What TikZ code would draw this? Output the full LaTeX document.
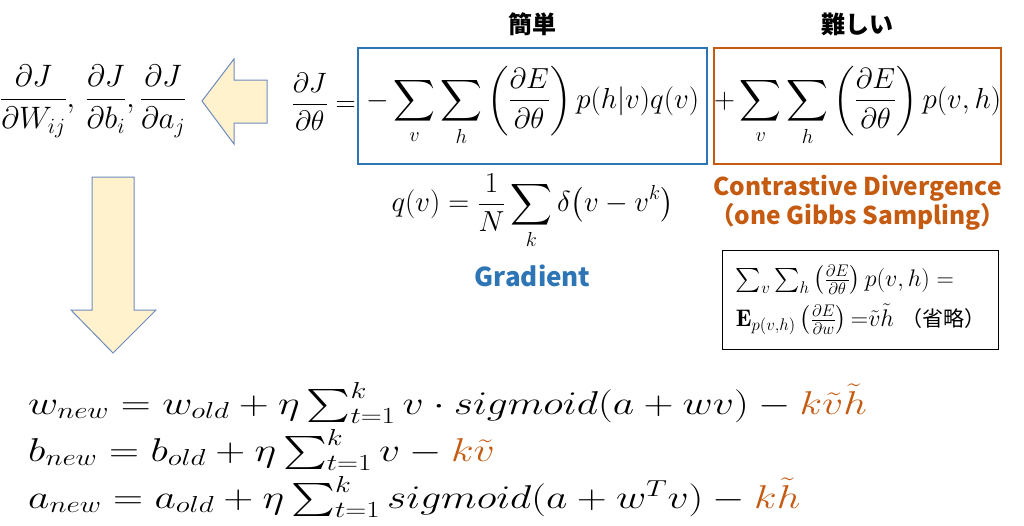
\documentclass[tikz,border=0pt]{standalone}
\usepackage{fix-cm}
\usepackage{amsmath,amssymb}
\usepackage{fontspec}
\newfontfamily\jpfont{Noto Sans CJK JP}
\usetikzlibrary{positioning}
\definecolor{gradblue}{HTML}{2E75B6}
\definecolor{cdorange}{HTML}{C55A11}
\definecolor{arrowfill}{HTML}{FFF2CC}
\definecolor{arrowline}{HTML}{6F8AC0}

\begin{document}
\begin{tikzpicture}[x=1pt,y=-1pt]
        \tikzstyle{term} = [inner sep=0pt,minimum height=116pt,line width=2.4pt,font=\fontsize{29}{34}\selectfont]
        \tikzstyle{bigarrow} = [fill=arrowfill,draw=arrowline,line width=1pt]
        \tikzstyle{jplabel} = [font=\jpfont\bfseries\fontsize{24}{30}\selectfont]
        \tikzstyle{eqline} = [inner sep=0pt,anchor=base west,font=\fontsize{33}{40}\selectfont]
    
        \useasboundingbox (0,0) rectangle (1024,525);
    
    
        \node[inner sep=0pt,anchor=west,font=\fontsize{31}{36}\selectfont] (partials) at (0,101)
            {$\displaystyle \frac{\partial J}{\partial W_{ij}},\,\frac{\partial J}{\partial b_i},\frac{\partial J}{\partial a_j}$};
        \node[inner sep=0pt,anchor=east,font=\fontsize{28}{34}\selectfont] (lhs) at (356,102)
            {$\displaystyle \frac{\partial J}{\partial \theta}=$};
    
    
        \node[term,draw=gradblue,minimum width=349pt,anchor=west] (grad) at (357,106)
            {$\displaystyle -\sum_{v}\sum_{h}\left(\frac{\partial E}{\partial\theta}\right)p(h|v)q(v)$};
        \node[term,draw=cdorange,minimum width=285pt,anchor=west] (cd) at (713,106)
            {$\displaystyle +\sum_{v}\sum_{h}\left(\frac{\partial E}{\partial\theta}\right)p(v,h)$};
    
    
        \node[jplabel,above=7pt of grad] (easy) {簡単};
        \node[jplabel,above=7pt of cd] (hard) {難しい};
    
    
        \node[inner sep=0pt,below=8pt of grad,font=\fontsize{29}{34}\selectfont] (qv)
            {$\displaystyle q(v)=\frac{1}{N}\sum_{k}\delta\bigl(v-v^{k}\bigr)$};
        \node[jplabel,text=gradblue,below=12pt of qv,font=\jpfont\bfseries\fontsize{26}{30}\selectfont] (gradname) {Gradient};
        \node[jplabel,text=cdorange,align=center,below=6pt of cd,font=\jpfont\bfseries\fontsize{24.5}{29}\selectfont] (cdname)
            {Contrastive Divergence\\（one Gibbs Sampling）};
    
    
        \node[draw,line width=0.8pt,align=left,minimum width=276pt,minimum height=99pt,anchor=north east,font=\fontsize{24}{34}\selectfont] (note) at (999,250)
            {$\sum_{v}\sum_{h}\left(\frac{\partial E}{\partial\theta}\right)p(v,h)=$\\[6pt]
             $\mathbf{E}_{p(v,h)}\left(\frac{\partial E}{\partial w}\right){=}\tilde{v}\tilde{h}$ {\jpfont\fontsize{21}{30}\selectfont（省略）}};
    
    
        \draw[bigarrow] (202,101) -- (234,59) -- (234,80) -- (267,80) -- (267,123) -- (234,123) -- (234,144) -- cycle;
        \draw[bigarrow] (92,177) -- (134,177) -- (134,310) -- (156,310) -- (113,353) -- (71,310) -- (92,310) -- cycle;
    
    
        \node[eqline] (wnew) at (28,414)
            {\scalebox{1.26}[1]{$w_{new}=w_{old}+\eta\sum_{t=1}^{k}v\cdot sigmoid(a+wv)-\textcolor{cdorange}{k\tilde{v}\tilde{h}}$}};
        \node[eqline] (bnew) at (28,461)
            {\scalebox{1.26}[1]{$b_{new}=b_{old}+\eta\sum_{t=1}^{k}v-\textcolor{cdorange}{k\tilde{v}}$}};
        \node[eqline] (anew) at (28,508)
            {\scalebox{1.26}[1]{$a_{new}=a_{old}+\eta\sum_{t=1}^{k}sigmoid(a+w^{T}v)-\textcolor{cdorange}{k\tilde{h}}$}};
    
    \end{tikzpicture}
\end{document}
